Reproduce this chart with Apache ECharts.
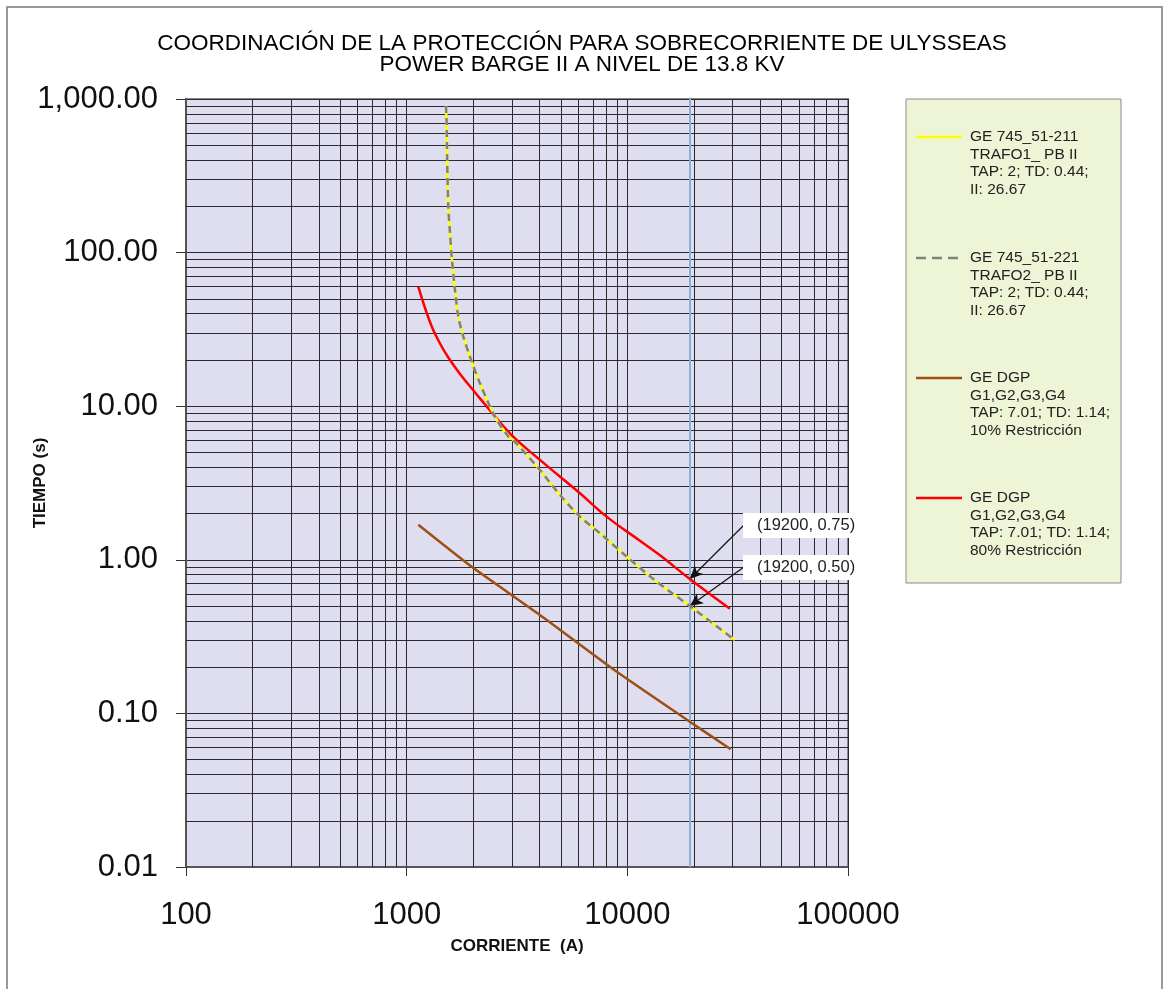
<!DOCTYPE html>
<html>
<head>
<meta charset="utf-8">
<script src="https://cdn.jsdelivr.net/npm/echarts@6/dist/echarts.min.js"></script>
<style>
  html, body { margin: 0; padding: 0; background: #ffffff; }
  #chart { width: 1164px; height: 989px; }
</style>
</head>
<body>
<div id="chart"></div>
<script>
// Time-current curves (current in A, operating time in s)
const trafo1Curve = [
  [1507, 900], [1518, 695], [1525, 421], [1544, 199], [1572, 134], [1600, 94],
  [1656, 57], [1714, 38.3], [1806, 28.4], [1936, 21], [2148, 14.1], [2512, 8.55],
  [2890, 6.34], [3041, 6.02], [4018, 3.84], [4955, 2.64], [6099, 1.91], [7510, 1.49],
  [10000, 1.04], [13580, 0.72], [19200, 0.50], [30700, 0.30]
];
const trafo2Curve = trafo1Curve.map(p => p.slice());
const dgp10Curve = [
  [1129, 1.69], [1972, 0.90], [4018, 0.437], [8630, 0.194], [19200, 0.0883], [29400, 0.0584]
];
const dgp80Curve = [
  [1129, 60], [1211, 43.6], [1302, 32.8], [1416, 25.6], [1539, 20.9], [1745, 16.2],
  [2004, 12.7], [2148, 11.25], [2938, 6.66], [4018, 4.47], [6099, 2.71], [8054, 1.91],
  [11400, 1.33], [14060, 1.07], [19200, 0.75], [29170, 0.48]
];

const legendNames = [
  'GE 745_51-211\nTRAFO1_ PB II\nTAP: 2; TD: 0.44;\nII: 26.67',
  'GE 745_51-221\nTRAFO2_ PB II\nTAP: 2; TD: 0.44;\nII: 26.67',
  'GE DGP\nG1,G2,G3,G4\nTAP: 7.01; TD: 1.14;\n10% Restricción',
  'GE DGP\nG1,G2,G3,G4\nTAP: 7.01; TD: 1.14;\n80% Restricción'
];

// Marked operating points
const markedPoints = [[19200, 0.75], [19200, 0.50]];
const faultCurrent = 19200;

const xTicks = [100, 1000, 10000, 100000];
const yTicks = [0.01, 0.1, 1, 10, 100, 1000];

// Log grid lines between the decades (2..9 x 10^n)
const xMinor = [], yMinor = [];
for (let i = 0; i < xTicks.length - 1; i++) for (let k = 2; k <= 9; k++) xMinor.push(xTicks[i] * k);
for (let i = 0; i < yTicks.length - 1; i++) for (let k = 2; k <= 9; k++) yMinor.push(+(yTicks[i] * k).toPrecision(3));

const gridColor = '#2b2b2b';
const sans = "'Liberation Sans', Arial, sans-serif";

const chart = echarts.init(document.getElementById('chart'), null, { renderer: 'canvas' });

const gridLines = [];
xMinor.forEach(v => gridLines.push({ xAxis: v }));
yMinor.forEach(v => gridLines.push({ yAxis: v }));

const legendColors = ['#FFFF00', '#808080', '#9E4F12', '#FF0000'];
const legendY = [137, 258, 378, 498];
const legendGraphics = [
  { type: 'rect', shape: { x: 906, y: 99, width: 215, height: 484 },
    style: { fill: '#EEF4D6', stroke: '#8c8c8c', lineWidth: 1 }, z: 10 }
];
legendNames.forEach((name, i) => {
  legendGraphics.push({
    type: 'line', shape: { x1: 916, y1: legendY[i], x2: 962, y2: legendY[i] },
    style: { stroke: legendColors[i], lineWidth: 2.5, lineDash: i === 1 ? [10, 6] : null }, z: 11
  });
  legendGraphics.push({
    type: 'text', x: 970, y: legendY[i] - 9,
    style: { text: name, font: '15.5px ' + sans, fill: '#222', lineHeight: 17.5 }, z: 11
  });
});

const labelBoxes = [];
const labelTop = [513, 555];
markedPoints.forEach((p, i) => {
  labelBoxes.push({ type: 'rect', shape: { x: 743, y: labelTop[i], width: 128, height: 25 },
    style: { fill: '#ffffff' }, z: 20 });
  labelBoxes.push({ type: 'text', x: 757, y: labelTop[i] + 4,
    style: { text: '(' + p[0] + ', ' + p[1].toFixed(2) + ')', font: '16.5px ' + sans, fill: '#222' }, z: 21 });
});

const arrowStarts = [{ x: 744, y: 525 }, { x: 744, y: 567 }];

chart.setOption({
  animation: false,
  backgroundColor: '#ffffff',
  title: {
    text: 'COORDINACIÓN DE LA PROTECCIÓN PARA SOBRECORRIENTE DE ULYSSEAS\nPOWER BARGE II A NIVEL DE 13.8 KV',
    left: 'center', top: 28,
    textStyle: { fontFamily: sans, fontSize: 22.5, fontWeight: 'normal', color: '#000', lineHeight: 21 }
  },
  grid: {
    left: 186, top: 99, width: 662, height: 768,
    show: true, backgroundColor: '#DEDEF0', borderColor: '#8a8a8a', borderWidth: 2
  },
  xAxis: {
    type: 'log', logBase: 10, min: 100, max: 100000,
    name: 'CORRIENTE  (A)', nameLocation: 'middle', nameGap: 71, nameMoveOverlap: false,
    nameTextStyle: { fontFamily: sans, fontSize: 17, fontWeight: 'bold', color: '#111' },
    axisLine: { show: true, onZero: false, lineStyle: { color: '#555', width: 2 } },
    axisTick: { show: true, inside: false, length: 9, lineStyle: { color: '#333' } },
    axisLabel: { margin: 33, fontFamily: sans, fontSize: 31, color: '#111', formatter: v => String(Math.round(v)) },
    splitLine: { show: true, lineStyle: { color: gridColor, width: 1 } },
    minorTick: { show: false }, minorSplitLine: { show: false }
  },
  yAxis: {
    type: 'log', logBase: 10, min: 0.01, max: 1000,
    name: 'TIEMPO (s)', nameLocation: 'middle', nameGap: 137, nameRotate: 90, nameMoveOverlap: false,
    nameTextStyle: { fontFamily: sans, fontSize: 17, fontWeight: 'bold', color: '#111' },
    axisLine: { show: true, onZero: false, lineStyle: { color: '#555', width: 2 } },
    axisTick: { show: true, inside: false, length: 10, lineStyle: { color: '#333' } },
    axisLabel: { margin: 28, fontFamily: sans, fontSize: 31, color: '#111',
      formatter: v => v.toLocaleString('en-US', { minimumFractionDigits: 2, maximumFractionDigits: 2 }) },
    splitLine: { show: true, lineStyle: { color: gridColor, width: 1 } },
    minorTick: { show: false }, minorSplitLine: { show: false }
  },
  graphic: [
    { type: 'rect', shape: { x: 7, y: 7, width: 1155, height: 1000 },
      style: { fill: null, stroke: '#7a7a7a', lineWidth: 1.5 }, silent: true, z: 0 }
  ].concat(legendGraphics, labelBoxes),
  series: [
    {
      name: 'grid', type: 'line', data: [], z: 1, silent: true,
      markLine: {
        silent: true, symbol: 'none', animation: false, label: { show: false },
        lineStyle: { color: gridColor, width: 1, type: 'solid' },
        data: gridLines
      }
    },
    {
      name: 'falla', type: 'line', data: [], z: 2, silent: true,
      markLine: {
        silent: true, symbol: 'none', animation: false, label: { show: false },
        lineStyle: { color: '#8FAFDA', width: 2, type: 'solid' },
        data: [{ xAxis: faultCurrent }]
      }
    },
    {
      name: legendNames[2], type: 'line', data: dgp10Curve, z: 5,
      showSymbol: false, smooth: 0.2,
      lineStyle: { color: legendColors[2], width: 2.5 }
    },
    {
      name: legendNames[3], type: 'line', data: dgp80Curve, z: 5,
      showSymbol: false, smooth: 0.4,
      lineStyle: { color: legendColors[3], width: 2.5 }
    },
    {
      name: legendNames[0], type: 'line', data: trafo1Curve, z: 6,
      showSymbol: false, smooth: 0.3,
      lineStyle: { color: legendColors[0], width: 2.5 }
    },
    {
      name: legendNames[1], type: 'line', data: trafo2Curve, z: 7,
      showSymbol: false, smooth: 0.3,
      lineStyle: { color: legendColors[1], width: 2.5, type: [7, 5] },
      markLine: {
        silent: true, animation: false, symbol: ['arrow', 'none'], symbolSize: [9, 13],
        label: { show: false },
        lineStyle: { color: '#111', width: 1.2, type: 'solid' },
        data: markedPoints.map((p, i) => [
          { coord: p }, arrowStarts[i]
        ])
      }
    }
  ]
});
</script>
</body>
</html>
